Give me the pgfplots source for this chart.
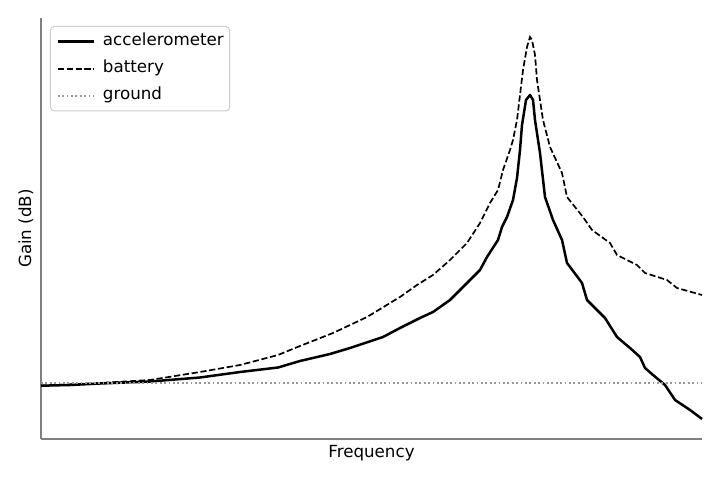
\documentclass[border=0pt]{standalone}
\usepackage{fontspec}
\setmainfont{DejaVu Sans}
\usepackage{pgfplots}
\pgfplotsset{compat=1.18}
\definecolor{spine}{RGB}{128,128,128}
\definecolor{groundc}{RGB}{150,150,150}
\definecolor{legframe}{RGB}{204,204,204}
\begin{document}
\fontsize{16.7bp}{20bp}\selectfont
\begin{tikzpicture}[font=\fontsize{16.7bp}{20bp}\selectfont]
\path[use as bounding box] (-41bp,-41bp) rectangle (679bp,439bp);
\begin{axis}[
  scale only axis,
  width=661bp, height=421bp,
  xmin=41, xmax=702, ymin=41, ymax=462,
  axis x line*=bottom, axis y line*=left,
  axis line style={spine, line width=1.2bp, -},
  ticks=none,
  clip=false,
  xlabel={Frequency},
  ylabel={Gain (dB)},
  xlabel style={at={(axis description cs:0.5,-0.0451)}, anchor=base, inner sep=0pt},
  ylabel style={at={(axis description cs:-0.0151,0.5)}, anchor=base, inner sep=0pt, rotate=0},
  legend image code/.code={\draw[#1] (0bp,0bp) -- (36bp,0bp);},
  legend style={at={(axis description cs:0.0136,0.981)}, anchor=north west,
    draw=legframe, line width=1bp, rounded corners=4bp, fill=white,
    inner xsep=6bp, inner ysep=7.5bp, row sep=11.5bp,
    nodes={inner sep=0pt, text height=12bp, text depth=3.5bp},
    column sep=8bp},
  legend cell align=left,
]
\addplot[black, line width=2.5bp, line join=round] coordinates {
(41,94.3) (70,95) (100,96.5) (150,98.5) (200,102.5) (240,108) (278,112.5)
(300,119) (330,126) (350,132) (383,143) (400,152) (420,162) (433,168)
(450,180) (467,197) (480,210) (487,223) (498,240) (502,253) (507,263)
(513,280) (517,302) (520,330) (522,355) (526,380) (530,385)
(533,380) (535,360) (540,327) (545,283) (553,260) (562,240) (567,217)
(582,197) (587,180) (605,162) (617,143) (630,132) (640,123) (645,112)
(653,105) (665,95) (675,80) (690,70) (702,61)
};
\addlegendentry{accelerometer}
\addplot[black, line width=1.7bp, dash pattern=on 6.2bp off 2.7bp] coordinates {
(41,94.3) (100,97) (150,100) (200,108) (240,115) (278,125) (300,134)
(333,147) (367,163) (400,183) (417,195) (433,205) (450,220) (467,237)
(480,257) (490,277) (498,290) (503,310) (510,330) (513,340) (517,360)
(520,385) (523,410) (527,433) (530,443) (532,440) (535,425) (537,400)
(543,360) (550,333) (562,307) (567,283) (583,263) (592,250) (610,237)
(617,225) (637,215) (645,207) (667,200) (677,192) (702,185)
};
\addlegendentry{battery}
\addplot[groundc, line width=1.8bp, dash pattern=on 1.8bp off 2.6bp] coordinates {
(41,97) (702,97)
};
\addlegendentry{ground}
\end{axis}
\end{tikzpicture}
\end{document}
